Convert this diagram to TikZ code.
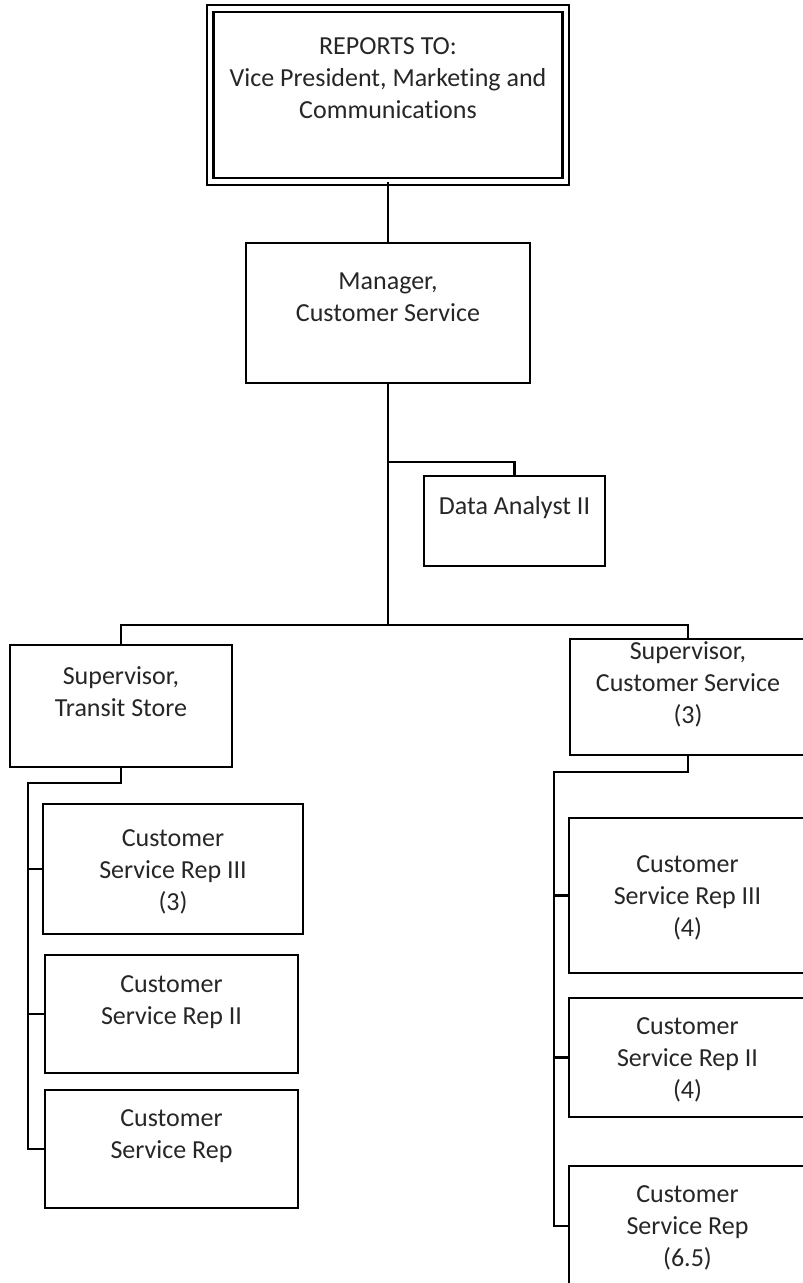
\documentclass[tikz,border=0pt]{standalone}
\usepackage{fontspec}
\setmainfont{Carlito}[Ligatures={NoCommon}]
\usetikzlibrary{positioning}

\begin{document}
\begin{tikzpicture} [x=1pt, y=-1pt,
			line width=2.4pt,
			box/.style={draw, rectangle, inner sep=0pt, outer sep=0pt},
			txt/.style={inner sep=0pt, align=center, text=black!85,
				font=\fontsize{26}{32}\selectfont},
		]
		\clip (0,0) rectangle (803,1283);

		% Top box
		\node (vp) [box,
			double, double distance=4.1pt,
			minimum width=355.5pt, minimum height=173pt] at (388,95) {};
		\node (vp-t) [txt,
			below = 27.5pt of vp.north] {REPORTS TO:\\Vice President, Marketing and\\Communications};
		% Manager
		\node (mgr) [box,
			minimum width=284pt, minimum height=140pt] at (388,313) {};
		\node (mgr-t) [txt,
			below = 28.5pt of mgr.north] {Manager,\\Customer Service};
		% Data analyst
		\node (da) [box,
			minimum width=181pt, minimum height=90pt] at (514.5,521) {};
		\node (da-t) [txt,
			below = 19pt of da.north] {Data Analyst II};
		% Supervisors
		\node (sts) [box,
			minimum width=222pt, minimum height=122pt] at (121,706) {};
		\node (sts-t) [txt,
			below = 20pt of sts.north] {Supervisor,\\Transit Store};
		\node (scs) [box,
			minimum width=236pt, minimum height=116pt] at (688,697) {};
		\node (scs-t) [txt,
			below = 1.5pt of scs.north] {Supervisor,\\Customer Service\\(3)};
		% Transit store reps
		\node (lr3) [box,
			minimum width=260pt, minimum height=130pt] at (173,869) {};
		\node (lr3-t) [txt,
			below = 24pt of lr3.north] {Customer\\Service Rep III\\(3)};
		\node (lr2) [box,
			minimum width=253pt, minimum height=118pt] at (171.5,1014) {};
		\node (lr2-t) [txt,
			below = 19pt of lr2.north] {Customer\\Service Rep II};
		\node (lr1) [box,
			minimum width=253pt, minimum height=118pt] at (171.5,1149) {};
		\node (lr1-t) [txt,
			below = 18pt of lr1.north] {Customer\\Service Rep};
		% Customer service reps
		\node (rr3) [box,
			minimum width=237pt, minimum height=155pt] at (687.5,895.5) {};
		\node (rr3-t) [txt,
			below = 36pt of rr3.north] {Customer\\Service Rep III\\(4)};
		\node (rr2) [box,
			minimum width=237pt, minimum height=119pt] at (687.5,1057.5) {};
		\node (rr2-t) [txt,
			below = 18pt of rr2.north] {Customer\\Service Rep II\\(4)};
		\node (rr1) [box,
			minimum width=237pt, minimum height=120pt] at (687.5,1226) {};
		\node (rr1-t) [txt,
			below = 18pt of rr1.north] {Customer\\Service Rep\\(6.5)};

		% Lines
		\coordinate (split) at (388,625);
		\coordinate (dabr) at (388,462);
		\coordinate (ltrunk) at (28,783);
		\coordinate (rtrunk) at (554,772);
		\draw (vp) -- (mgr);
		\draw (mgr) -- (split);
		\draw (dabr) -| (da.north);
		\draw (sts.north) |- (split) -| (scs.north);
		\draw (sts.south) |- (ltrunk) |- (lr1.west);
		\draw (ltrunk) |- (lr3.west);
		\draw (ltrunk) |- (lr2.west);
		\draw (scs.south) |- (rtrunk) |- (rr1.west);
		\draw (rtrunk) |- (rr3.west);
		\draw (rtrunk) |- (rr2.west);
	\end{tikzpicture}
\end{document}
